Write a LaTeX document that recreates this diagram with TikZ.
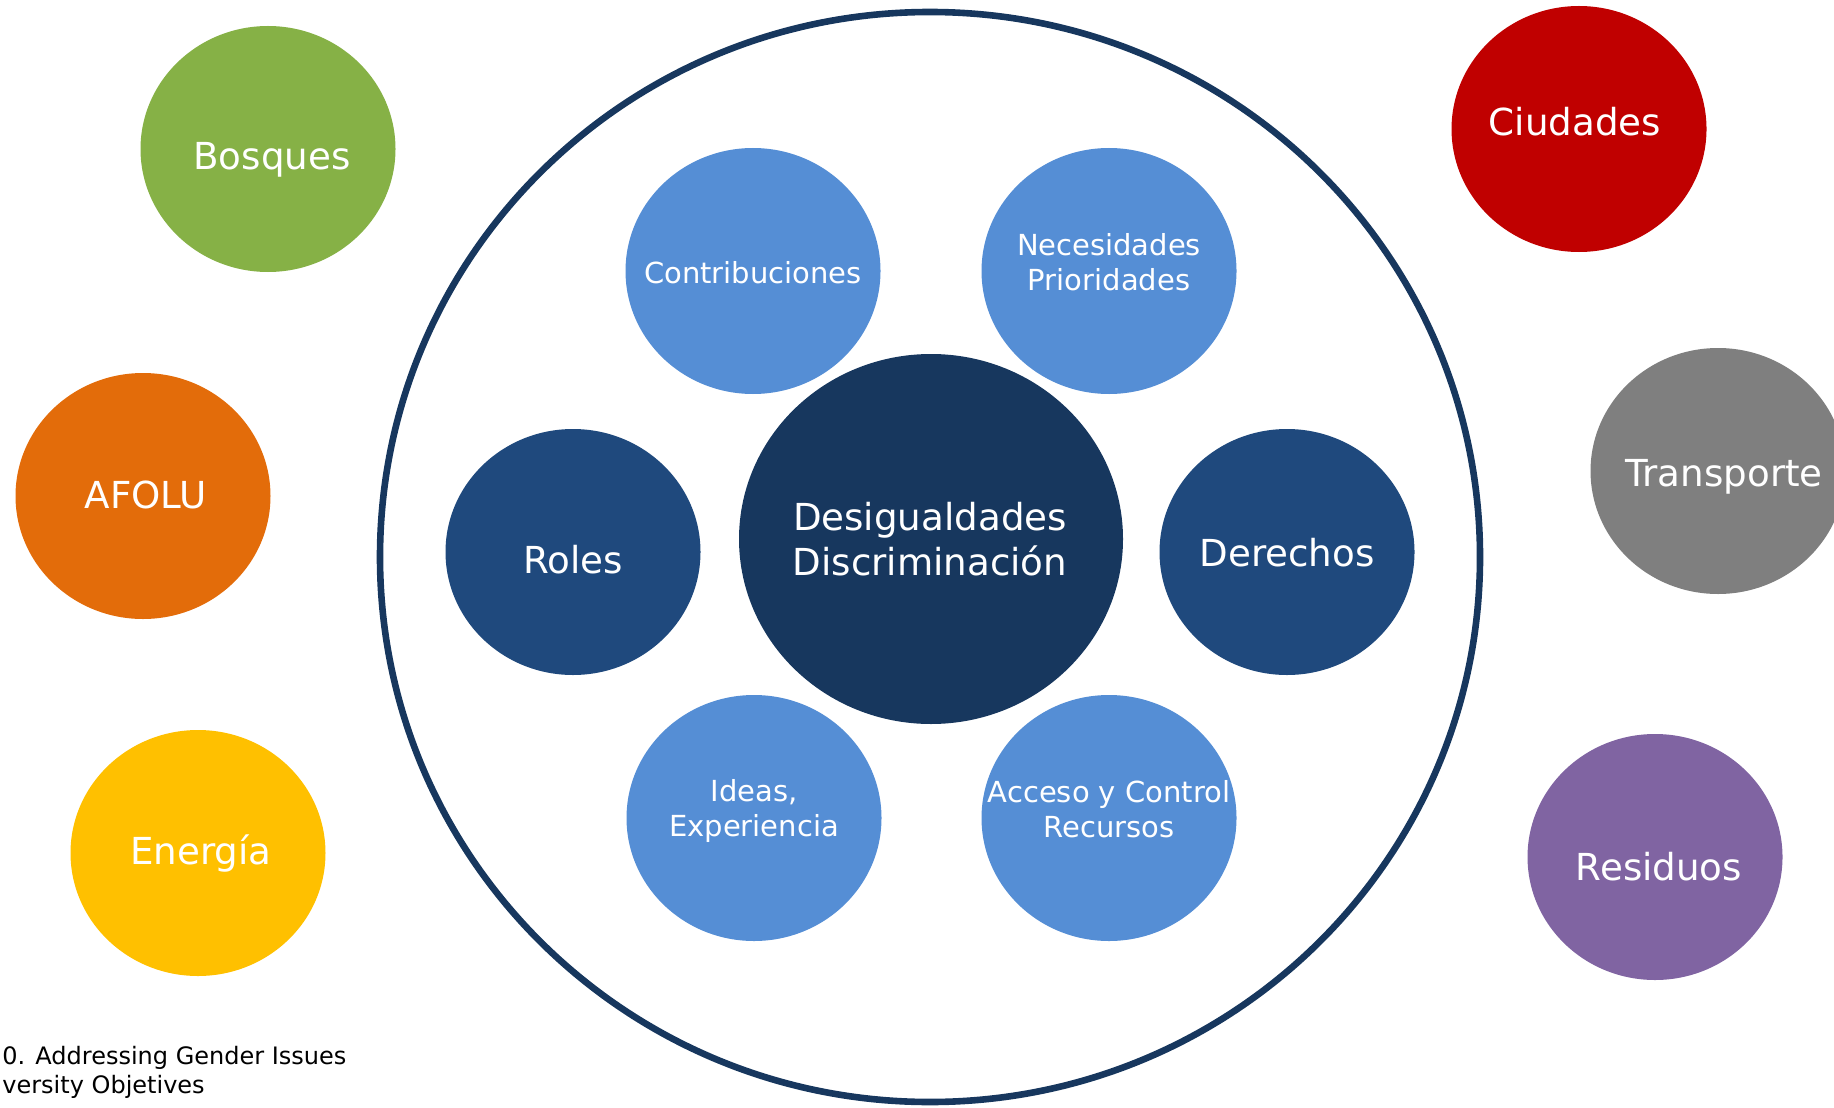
\documentclass[tikz,border=0pt]{standalone}
\usepackage{fontspec}
\setmainfont{DejaVu Sans}
\usetikzlibrary{shapes.geometric,calc}
\definecolor{cGreen}{HTML}{86B146}
\definecolor{cOrange}{HTML}{E36C0A}
\definecolor{cYellow}{HTML}{FFC000}
\definecolor{cRed}{HTML}{C00000}
\definecolor{cGrey}{HTML}{7F7F7F}
\definecolor{cPurple}{HTML}{8064A2}
\definecolor{cLight}{HTML}{558ED5}
\definecolor{cMid}{HTML}{1F497D}
\definecolor{cDark}{HTML}{17375E}
\tikzset{
  bub/.style={ellipse, inner sep=0pt, draw=none, minimum width=127.5pt, minimum height=123pt},
  big/.style={ellipse, inner sep=0pt, draw=none, minimum width=192pt, minimum height=185pt, fill=cDark},
  ttl/.style={text=white, align=center, inner sep=0pt, font=\fontsize{18.6}{22.8}\selectfont},
  sml/.style={text=white, align=center, inner sep=0pt, font=\fontsize{14.5}{17.5}\selectfont},
  note/.style={text=black, anchor=west, inner sep=0pt, font=\fontsize{12}{14}\selectfont}
}
\begin{document}
\begin{tikzpicture}[x=0.5pt,y=-0.5pt]
\useasboundingbox (0,0) rectangle (1834,1107);
\clip (0,0) rectangle (1834,1107);
\node[ellipse, draw=cDark, line width=3.3pt, inner sep=0pt, minimum width=550pt, minimum height=545pt] (ring) at (930,557) {};
% inner bubbles
\node[bub, fill=cLight] (con) at (753,271) {};
\node[bub, fill=cLight] (nec) at (1109,271) {};
\node[bub, fill=cMid] (rol) at (573,552) {};
\node[bub, fill=cMid] (der) at (1287,552) {};
\node[big] (des) at (931,539) {};
\node[bub, fill=cLight] (ide) at (754,818) {};
\node[bub, fill=cLight] (acc) at (1109,818) {};
% outer bubbles
\node[bub, fill=cGreen] (bos) at (268,149) {};
\node[bub, fill=cOrange] (afo) at (143,496) {};
\node[bub, fill=cYellow] (ene) at (198,853) {};
\node[bub, fill=cRed] (ciu) at (1579,129) {};
\node[bub, fill=cGrey] (tra) at (1718,471) {};
\node[bub, fill=cPurple] (res) at (1655,857) {};
% texts
\node[sml] (tcon) at ($(con)+(0,2)$) {Contribuciones};
\node[sml] (tnec) at ($(nec)+(0,-9)$) {Necesidades\\Prioridades};
\node[ttl] (trol) at ($(rol)+(0,8)$) {Roles};
\node[ttl] (tder) at ($(der)+(0,1)$) {Derechos};
\node[ttl] (tdes) at ($(des)+(-1,0)$) {Desigualdades\\Discriminación};
\node[sml] (tide) at ($(ide)+(0,-7)$) {Ideas,\\Experiencia};
\node[sml] (tacc) at ($(acc)+(0,-9)$) {Acceso y Control\\Recursos};
\node[ttl] (tbos) at ($(bos)+(4,11)$) {Bosques};
\node[ttl] (tafo) at ($(afo)+(3,-1)$) {AFOLU};
\node[ttl] (tene) at ($(ene)+(3,0)$) {Energía};
\node[ttl] (tciu) at ($(ciu)+(-4,-7)$) {Ciudades};
\node[ttl] (ttra) at ($(tra)+(6,6)$) {Transporte};
\node[ttl] (tres) at ($(res)+(4,10)$) {Residuos};
\node[note] (n1) at (2,1058) {0. Addressing Gender Issues};
\node[note] (n2) at (2,1087) {versity Objetives};
\end{tikzpicture}
\end{document}
